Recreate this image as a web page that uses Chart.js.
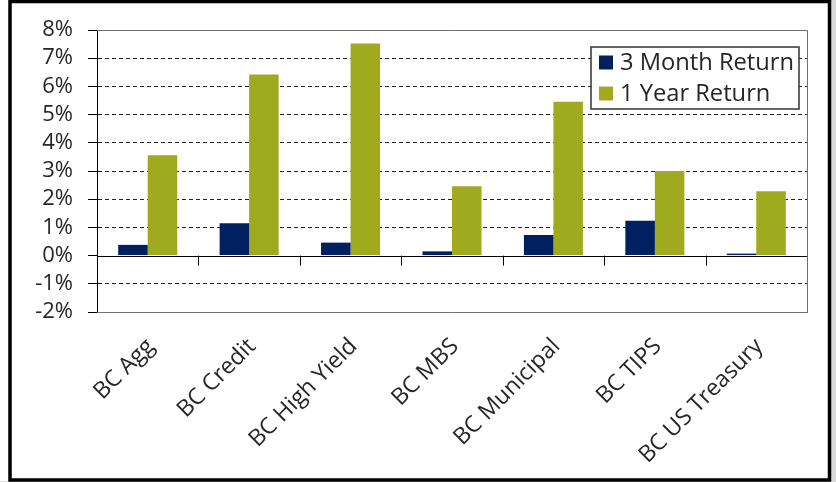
<!DOCTYPE html>
<html>
<head>
<meta charset="utf-8">
<script src="https://cdn.jsdelivr.net/npm/chart.js@4/dist/chart.umd.min.js"></script>
<style>
  html, body { margin: 0; padding: 0; background: #fff; }
  canvas { display: block; }
</style>
</head>
<body>
<canvas id="c" width="836" height="482"></canvas>
<script>
const categories = ["BC Agg", "BC Credit", "BC High Yield", "BC MBS", "BC Municipal", "BC TIPS", "BC US Treasury"];
const seriesNames = ["3 Month Return", "1 Year Return"];
const threeMonth = [0.38, 1.15, 0.46, 0.15, 0.73, 1.24, 0.07];
const oneYear = [3.56, 6.42, 7.52, 2.46, 5.46, 3.00, 2.28];
const seriesColors = ["#002060", "#9FAA1E"];
const yMin = -2, yMax = 8, yStep = 1;

const FONT = "'Open Sans', 'Noto Sans', sans-serif";
const TXT = "#262626";

const decor = {
  id: "decor",
  beforeDraw(chart) {
    const ctx = chart.ctx;
    ctx.save();
    ctx.fillStyle = "#fff";
    ctx.fillRect(0, 0, chart.width, chart.height);
    ctx.restore();
  },
  afterDatasetsDraw(chart) {
    const ctx = chart.ctx;
    const a = chart.chartArea;
    const x = chart.scales.x, y = chart.scales.y;
    const y0 = y.getPixelForValue(0);
    ctx.save();
    ctx.strokeStyle = "#707070";
    ctx.lineWidth = 1;
    ctx.beginPath();
    ctx.moveTo(a.left, a.top + 0.5); ctx.lineTo(a.right + 0.5, a.top + 0.5);
    ctx.lineTo(a.right + 0.5, a.bottom);
    ctx.stroke();
    ctx.strokeStyle = "#000";
    ctx.beginPath();
    ctx.moveTo(a.left, Math.round(y0) + 0.5); ctx.lineTo(a.right, Math.round(y0) + 0.5);
    for (let i = 1; i < categories.length; i++) {
      const bx = Math.round((x.getPixelForValue(i - 1) + x.getPixelForValue(i)) / 2) + 0.5;
      ctx.moveTo(bx, y0); ctx.lineTo(bx, y0 + 10);
    }
    ctx.stroke();
    const lx = 591, ly = 47, lw = 208, lh = 62;
    ctx.fillStyle = "#fff";
    ctx.fillRect(lx, ly, lw, lh);
    ctx.strokeStyle = "#333";
    ctx.lineWidth = 1.5;
    ctx.strokeRect(lx, ly, lw, lh);
    ctx.font = "23.7px " + FONT;
    ctx.textBaseline = "middle";
    ctx.textAlign = "left";
    chart.data.datasets.forEach((ds, i) => {
      const cy = ly + 15.5 + i * 31;
      ctx.fillStyle = ds.backgroundColor;
      ctx.fillRect(lx + 8, cy - 7, 14, 14);
      ctx.fillStyle = TXT;
      ctx.fillText(ds.label, lx + 29, cy + 1);
    });
    ctx.restore();
  },
  afterDraw(chart) {
    const ctx = chart.ctx;
    ctx.save();
    ctx.fillStyle = "#d9d9d9";
    ctx.fillRect(831, 0, 5, chart.height);
    ctx.fillRect(0, 481, chart.width, 1);
    ctx.strokeStyle = "#000";
    ctx.lineWidth = 3.5;
    ctx.strokeRect(10, 1.5, 819.5, 478.5);
    ctx.restore();
  }
};

new Chart(document.getElementById("c"), {
  type: "bar",
  data: {
    labels: categories,
    datasets: [
      { label: seriesNames[0], data: threeMonth, backgroundColor: seriesColors[0] },
      { label: seriesNames[1], data: oneYear, backgroundColor: seriesColors[1] }
    ]
  },
  options: {
    responsive: false,
    devicePixelRatio: 1,
    animation: false,
    layout: { padding: { left: 0, right: 29, top: 30, bottom: 0 } },
    datasets: { bar: { barPercentage: 1, categoryPercentage: 0.582 } },
    plugins: { legend: { display: false }, tooltip: { enabled: false } },
    scales: {
      y: {
        min: yMin, max: yMax,
        afterFit(s) { s.width = 97; },
        ticks: {
          stepSize: yStep,
          autoSkip: false,
          padding: 15,
          color: TXT,
          font: { family: FONT, size: 22 },
          callback: v => v + "%"
        },
        grid: {
          color: c => (c.tick && (c.tick.value === 0 || c.tick.value === yMax || c.tick.value === yMin)) ? "rgba(0,0,0,0)" : "#222",
          lineWidth: 1,
          drawTicks: true,
          tickLength: 9,
          tickColor: "#000"
        },
        border: { display: true, color: "#000", width: 1, dash: [4, 3] }
      },
      x: {
        afterFit(s) { s.height = 170; },
        grid: { display: false },
        border: { display: true, color: "#707070", width: 1 },
        ticks: {
          autoSkip: false,
          maxRotation: 45,
          minRotation: 45,
          padding: 13,
          labelOffset: 3,
          color: TXT,
          font: { family: FONT, size: 23 }
        }
      }
    }
  },
  plugins: [decor]
});
</script>
</body>
</html>
